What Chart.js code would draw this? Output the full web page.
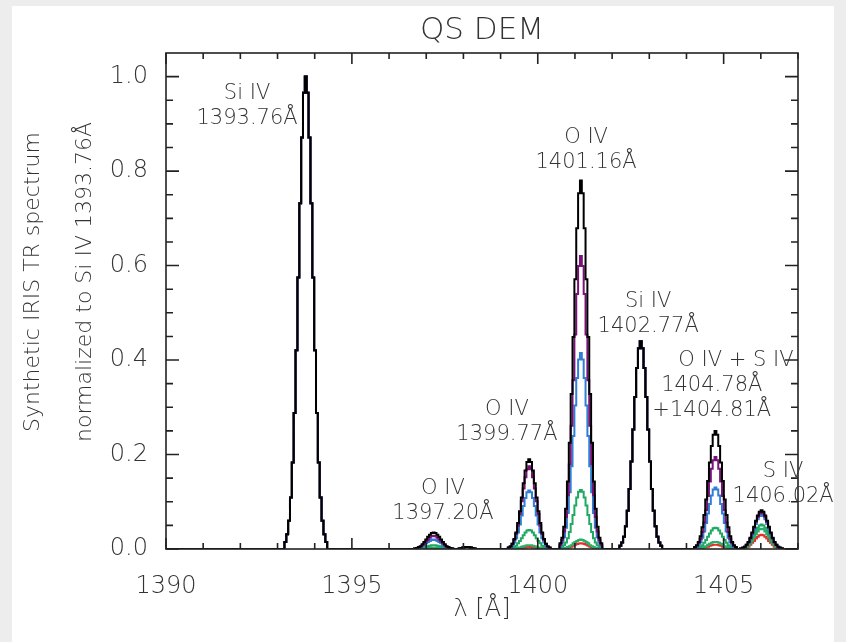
<!DOCTYPE html>
<html>
<head>
<meta charset="utf-8">
<title>QS DEM</title>
<script src="https://cdn.jsdelivr.net/npm/chart.js@4.4.0/dist/chart.umd.min.js"></script>
<style>
  html, body { margin: 0; padding: 0; background: #fff; }
</style>
</head>
<body>
<canvas id="espectro" width="846" height="642"></canvas>
<script>
// rejilla de longitud de onda alrededor de cada linea (Angstrom)
const offsets = [-0.6,-0.55,-0.5,-0.45,-0.4,-0.35,-0.3,-0.25,-0.2,-0.15,-0.1,-0.05,0,0.05,0.1,0.15,0.2,0.25,0.3,0.35,0.4,0.45,0.5,0.55,0.6];
const offsetsDebil = [-0.25,-0.2,-0.15,-0.1,-0.05,0,0.05,0.1,0.15,0.2,0.25];
const lineCenters = [1393.76, 1397.20, 1398.10, 1399.77, 1401.16, 1402.77, 1404.78, 1406.02];

// Si IV: igual en todos los modelos
const siIV1393 = [0,0.015,0.031,0.06,0.109,0.183,0.288,0.421,0.575,0.732,0.871,0.966,1,0.966,0.871,0.732,0.575,0.421,0.288,0.183,0.109,0.06,0.031,0.015,0];
const siIV1402 = [0,0.007,0.014,0.026,0.048,0.081,0.127,0.185,0.253,0.322,0.383,0.425,0.44,0.425,0.383,0.322,0.253,0.185,0.127,0.081,0.048,0.026,0.014,0.007,0];
const debil1398 = [0,0.001,0.002,0.003,0.004,0.004,0.004,0.003,0.002,0.001,0];

// O IV 1397.20
const oIV1397_k = [0,0,0.001,0.002,0.004,0.006,0.01,0.015,0.02,0.026,0.03,0.034,0.035,0.034,0.03,0.026,0.02,0.015,0.01,0.006,0.004,0.002,0.001,0,0];
const oIV1397_p = [0,0,0.001,0.002,0.003,0.005,0.008,0.012,0.016,0.02,0.024,0.027,0.028,0.027,0.024,0.02,0.016,0.012,0.008,0.005,0.003,0.002,0.001,0,0];
const oIV1397_b = [0,0,0.001,0.001,0.002,0.004,0.006,0.008,0.012,0.015,0.017,0.019,0.02,0.019,0.017,0.015,0.012,0.008,0.006,0.004,0.002,0.001,0.001,0,0];
const oIV1397_g = [0,0,0,0,0.001,0.001,0.002,0.003,0.005,0.006,0.007,0.008,0.008,0.008,0.007,0.006,0.005,0.003,0.002,0.001,0.001,0,0,0,0];
const oIV1397_l = [0,0,0,0,0,0.001,0.001,0.001,0.002,0.002,0.003,0.003,0.003,0.003,0.003,0.002,0.002,0.001,0.001,0.001,0,0,0,0,0];
const oIV1397_r = [0,0,0,0,0,0,0.0005,0.0007,0.001,0.0012,0.0014,0.0015,0.0015,0.0015,0.0014,0.0012,0.001,0.0007,0.0005,0,0,0,0,0,0];

// O IV 1399.77
const oIV1399_k = [0,0.003,0.006,0.011,0.021,0.035,0.055,0.08,0.109,0.139,0.166,0.184,0.19,0.184,0.166,0.139,0.109,0.08,0.055,0.035,0.021,0.011,0.006,0.003,0];
const oIV1399_p = [0,0.003,0.005,0.011,0.019,0.032,0.05,0.074,0.101,0.128,0.152,0.169,0.175,0.169,0.152,0.128,0.101,0.074,0.05,0.032,0.019,0.011,0.005,0.003,0];
const oIV1399_b = [0,0.002,0.004,0.007,0.014,0.023,0.035,0.052,0.071,0.091,0.108,0.12,0.124,0.12,0.108,0.091,0.071,0.052,0.035,0.023,0.014,0.007,0.004,0.002,0];
const oIV1399_g = [0,0.001,0.001,0.002,0.004,0.007,0.012,0.017,0.023,0.029,0.035,0.039,0.04,0.039,0.035,0.029,0.023,0.017,0.012,0.007,0.004,0.002,0.001,0.001,0];
const oIV1399_l = [0,0,0,0,0.001,0.001,0.002,0.003,0.005,0.006,0.007,0.008,0.008,0.008,0.007,0.006,0.005,0.003,0.002,0.001,0.001,0,0,0,0];
const oIV1399_r = [0,0,0,0,0,0.001,0.001,0.002,0.002,0.003,0.003,0.004,0.004,0.004,0.003,0.003,0.002,0.002,0.001,0.001,0,0,0,0,0];

// O IV 1401.16
const oIV1401_k = [0,0.012,0.024,0.047,0.085,0.143,0.225,0.328,0.449,0.571,0.679,0.753,0.78,0.753,0.679,0.571,0.449,0.328,0.225,0.143,0.085,0.047,0.024,0.012,0];
const oIV1401_p = [0,0.009,0.019,0.037,0.068,0.114,0.179,0.261,0.357,0.454,0.54,0.599,0.62,0.599,0.54,0.454,0.357,0.261,0.179,0.114,0.068,0.037,0.019,0.009,0];
const oIV1401_b = [0,0.006,0.013,0.025,0.045,0.076,0.12,0.175,0.239,0.304,0.362,0.401,0.415,0.401,0.362,0.304,0.239,0.175,0.12,0.076,0.045,0.025,0.013,0.006,0];
const oIV1401_g = [0,0.002,0.004,0.008,0.014,0.023,0.036,0.053,0.072,0.092,0.109,0.121,0.125,0.121,0.109,0.092,0.072,0.053,0.036,0.023,0.014,0.008,0.004,0.002,0];
const oIV1401_l = [0,0,0.001,0.001,0.002,0.004,0.006,0.008,0.012,0.015,0.017,0.019,0.02,0.019,0.017,0.015,0.012,0.008,0.006,0.004,0.002,0.001,0.001,0,0];
const oIV1401_r = [0,0,0,0.001,0.001,0.002,0.0035,0.005,0.007,0.009,0.0105,0.0115,0.012,0.0115,0.0105,0.009,0.007,0.005,0.0035,0.002,0.001,0.001,0,0,0];

// O IV + S IV 1404.78 / 1404.81
const oIV1404_k = [0,0.004,0.008,0.015,0.027,0.046,0.072,0.105,0.144,0.183,0.218,0.242,0.25,0.242,0.218,0.183,0.144,0.105,0.072,0.046,0.027,0.015,0.008,0.004,0];
const oIV1404_p = [0,0.003,0.006,0.012,0.021,0.036,0.056,0.082,0.112,0.143,0.17,0.188,0.195,0.188,0.17,0.143,0.112,0.082,0.056,0.036,0.021,0.012,0.006,0.003,0];
const oIV1404_b = [0,0.002,0.004,0.008,0.014,0.024,0.037,0.055,0.075,0.095,0.113,0.126,0.13,0.126,0.113,0.095,0.075,0.055,0.037,0.024,0.014,0.008,0.004,0.002,0];
const oIV1404_g = [0,0.001,0.001,0.003,0.005,0.008,0.013,0.019,0.026,0.033,0.039,0.044,0.045,0.044,0.039,0.033,0.026,0.019,0.013,0.008,0.005,0.003,0.001,0.001,0];
const oIV1404_l = [0,0,0,0.001,0.002,0.003,0.004,0.006,0.009,0.011,0.013,0.015,0.015,0.015,0.013,0.011,0.009,0.006,0.004,0.003,0.002,0.001,0,0,0];
const oIV1404_r = [0,0,0,0,0.001,0.002,0.003,0.004,0.005,0.007,0.008,0.009,0.009,0.009,0.008,0.007,0.005,0.004,0.003,0.002,0.001,0,0,0,0];

// S IV 1406.02
const sIV1406_k = [0,0.001,0.003,0.005,0.009,0.015,0.024,0.035,0.047,0.06,0.071,0.079,0.082,0.079,0.071,0.06,0.047,0.035,0.024,0.015,0.009,0.005,0.003,0.001,0];
const sIV1406_p = [0,0.001,0.002,0.005,0.009,0.014,0.022,0.033,0.045,0.057,0.068,0.075,0.078,0.075,0.068,0.057,0.045,0.033,0.022,0.014,0.009,0.005,0.002,0.001,0];
const sIV1406_b = [0,0.001,0.002,0.004,0.008,0.013,0.021,0.03,0.041,0.053,0.063,0.07,0.072,0.07,0.063,0.053,0.041,0.03,0.021,0.013,0.008,0.004,0.002,0.001,0];
const sIV1406_g = [0,0.001,0.002,0.003,0.006,0.01,0.015,0.022,0.03,0.038,0.045,0.05,0.052,0.05,0.045,0.038,0.03,0.022,0.015,0.01,0.006,0.003,0.002,0.001,0];
const sIV1406_l = [0,0.001,0.001,0.003,0.005,0.008,0.012,0.018,0.025,0.031,0.037,0.042,0.043,0.042,0.037,0.031,0.025,0.018,0.012,0.008,0.005,0.003,0.001,0.001,0];
const sIV1406_r = [0,0,0.001,0.002,0.003,0.005,0.009,0.013,0.017,0.022,0.026,0.029,0.03,0.029,0.026,0.022,0.017,0.013,0.009,0.005,0.003,0.002,0.001,0,0];

// cada modelo, en el orden de lineCenters
const serieNegra   = [siIV1393, oIV1397_k, debil1398, oIV1399_k, oIV1401_k, siIV1402, oIV1404_k, sIV1406_k];
const serieMorada  = [siIV1393, oIV1397_p, debil1398, oIV1399_p, oIV1401_p, siIV1402, oIV1404_p, sIV1406_p];
const serieAzul    = [siIV1393, oIV1397_b, debil1398, oIV1399_b, oIV1401_b, siIV1402, oIV1404_b, sIV1406_b];
const serieVerde   = [siIV1393, oIV1397_g, debil1398, oIV1399_g, oIV1401_g, siIV1402, oIV1404_g, sIV1406_g];
const serieVerde2  = [siIV1393, oIV1397_l, debil1398, oIV1399_l, oIV1401_l, siIV1402, oIV1404_l, sIV1406_l];
const serieRoja    = [siIV1393, oIV1397_r, debil1398, oIV1399_r, oIV1401_r, siIV1402, oIV1404_r, sIV1406_r];

const xTickVals = [1390, 1395, 1400, 1405];
const yTickVals = [0, 0.2, 0.4, 0.6, 0.8, 1.0];

// etiquetas de las lineas (posicion del centro de la primera linea, en unidades de datos)
const etiquetas = [
  ['Si IV', '1393.76Å'],
  ['O IV', '1397.20Å'],
  ['O IV', '1399.77Å'],
  ['O IV', '1401.16Å'],
  ['Si IV', '1402.77Å'],
  ['O IV + S IV'],
  ['1404.78Å', '+1404.81Å'],
  ['S IV', '1406.02Å']
];
const etiquetaX = [1392.18, 1397.45, 1399.17, 1401.30, 1402.97, 1405.33, 1404.68, 1406.60];
const etiquetaY = [0.964, 0.127, 0.296, 0.871, 0.524, 0.40, 0.347, 0.163];

const colores = ['#000000', '#7a1277', '#2f80d4', '#1fa862', '#28b06a', '#e2312b'];
const FUENTE = "'DejaVu Sans', 'Liberation Sans', sans-serif";
const GRIS = '#333333';

function puntos(perfiles) {
  const pts = [{x: 1390, y: 0}];
  perfiles.forEach((perfil, k) => {
    const desp = perfil.length === offsetsDebil.length ? offsetsDebil : offsets;
    perfil.forEach((v, i) => pts.push({x: lineCenters[k] + desp[i], y: v}));
  });
  pts.push({x: 1407, y: 0});
  return pts;
}

const series = [serieNegra, serieMorada, serieAzul, serieVerde, serieVerde2, serieRoja];

const marco = {
  id: 'marco',
  beforeDraw(chart) {
    const ctx = chart.ctx;
    ctx.save();
    ctx.fillStyle = '#ededed';
    ctx.fillRect(0, 0, chart.width, chart.height);
    ctx.fillStyle = '#ffffff';
    ctx.fillRect(12, 6, chart.width - 24, chart.height - 6);
    ctx.restore();
  },
  afterDatasetsDraw(chart) {
    const {ctx, chartArea: a, scales: {x, y}} = chart;
    ctx.save();
    ctx.strokeStyle = '#222';
    ctx.lineWidth = 1.6;
    ctx.strokeRect(a.left, a.top, a.right - a.left, a.bottom - a.top);
    ctx.beginPath();
    for (let v = 1390; v <= 1407; v++) {
      const px = x.getPixelForValue(v);
      const len = v % 5 === 0 ? 11 : 6;
      ctx.moveTo(px, a.bottom); ctx.lineTo(px, a.bottom - len);
      ctx.moveTo(px, a.top); ctx.lineTo(px, a.top + len);
    }
    for (let k = 0; k <= 20; k++) {
      const py = y.getPixelForValue(k * 0.05);
      const len = k % 4 === 0 ? 13 : 7;
      ctx.moveTo(a.left, py); ctx.lineTo(a.left + len, py);
      ctx.moveTo(a.right, py); ctx.lineTo(a.right - len, py);
    }
    ctx.stroke();

    // nombres de las lineas
    ctx.fillStyle = GRIS;
    ctx.font = '200 21px ' + FUENTE;
    ctx.textAlign = 'center';
    ctx.textBaseline = 'middle';
    etiquetas.forEach((lineas, i) => {
      const px = x.getPixelForValue(etiquetaX[i]);
      const py = y.getPixelForValue(etiquetaY[i]);
      lineas.forEach((t, j) => ctx.fillText(t, px, py + j * 25));
    });

    // titulo del eje y (dos lineas)
    ctx.font = '200 22px ' + FUENTE;
    ctx.translate(33, (a.top + a.bottom) / 2 - 19);
    ctx.rotate(-Math.PI / 2);
    ctx.fillText('Synthetic IRIS TR spectrum', 0, 0);
    ctx.fillText('normalized to Si IV 1393.76Å', 0, 52);
    ctx.restore();
  }
};

Chart.defaults.font.family = FUENTE;
Chart.defaults.font.weight = '200';
Chart.defaults.color = GRIS;

const ctx = document.getElementById('espectro').getContext('2d');
const myChart = new Chart(ctx, {
  type: 'line',
  data: {
    datasets: series.map((s, i) => ({
      data: puntos(s),
      borderColor: colores[i],
      borderWidth: 2,
      pointRadius: 0,
      stepped: 'middle',
      fill: false
    }))
  },
  options: {
    responsive: false,
    animation: false,
    devicePixelRatio: 1,
    layout: { padding: { left: 0, right: 48, top: 0, bottom: 0 } },
    plugins: {
      legend: { display: false },
      tooltip: { enabled: false },
      title: {
        display: true,
        text: 'QS DEM',
        fullSize: false,
        color: GRIS,
        font: { size: 31, weight: '200' },
        padding: { top: 12, bottom: 3.8 }
      }
    },
    scales: {
      x: {
        type: 'linear',
        min: 1390,
        max: 1407,
        grid: { display: false },
        border: { display: false },
        afterBuildTicks: s => { s.ticks = xTickVals.map(v => ({ value: v })); },
        afterFit: s => { s.height = 93; },
        ticks: { padding: 15, font: { size: 24, weight: '200' }, color: GRIS, maxRotation: 0, callback: v => String(v) },
        title: { display: true, text: 'λ [Å]', color: GRIS, font: { size: 24, weight: '200' }, padding: { top: 0, bottom: 18 } }
      },
      y: {
        min: 0,
        max: 1.05,
        grid: { display: false },
        border: { display: false },
        afterBuildTicks: s => { s.ticks = yTickVals.map(v => ({ value: v })); },
        afterFit: s => { s.width = 166; },
        ticks: { padding: 10, font: { size: 24, weight: '200' }, color: GRIS, callback: v => v.toFixed(1) }
      }
    }
  },
  plugins: [marco]
});
</script>
</body>
</html>
